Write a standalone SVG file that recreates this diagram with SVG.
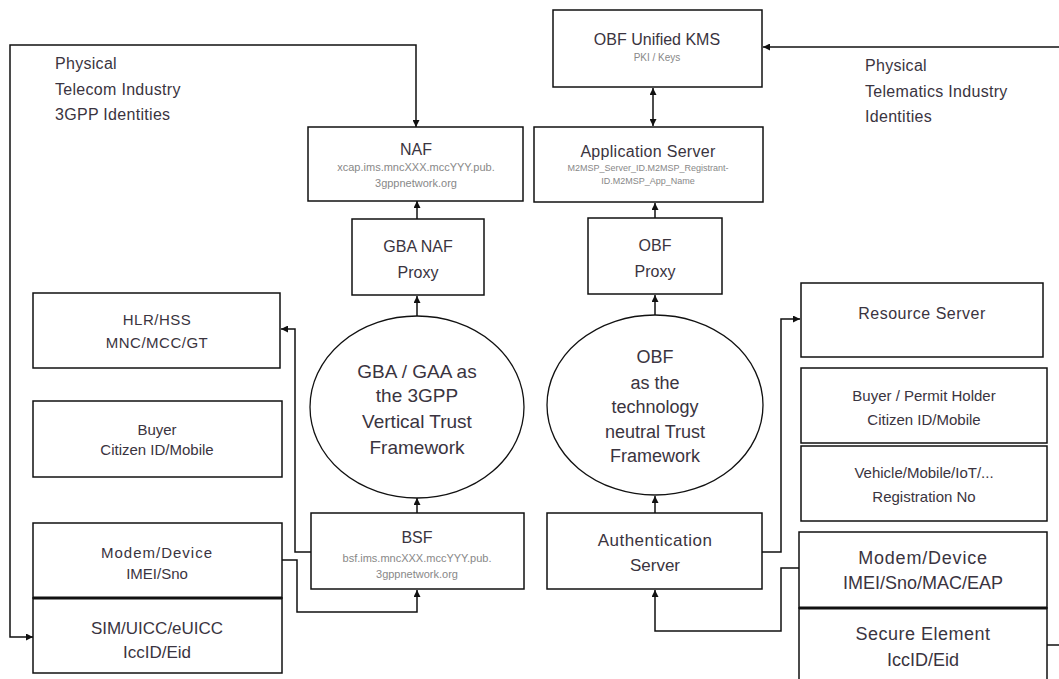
<svg xmlns="http://www.w3.org/2000/svg" width="1059" height="679" viewBox="0 0 1059 679">
<style>
.box{fill:#fff;stroke:#111;stroke-width:1.5}
.ell{fill:#fff;stroke:#111;stroke-width:1.3}
.t{font-family:"Liberation Sans",Arial,sans-serif;fill:#3a3440;text-anchor:middle}
.tl{font-family:"Liberation Sans",Arial,sans-serif;fill:#3a3440;font-size:16px}
.s{font-family:"Liberation Sans",Arial,sans-serif;fill:#888;text-anchor:middle}
.c{fill:none;stroke:#111;stroke-width:1.5}
</style>
<defs>
<marker id="ah" viewBox="0 0 10 10" refX="10" refY="5" markerWidth="7" markerHeight="7" markerUnits="userSpaceOnUse" orient="auto-start-reverse">
<path d="M0,0 L10,5 L0,10 z" fill="#111"/>
</marker>
</defs>
<rect width="1059" height="679" fill="#fff"/>
<g id="labels">
<text class="tl" x="55" y="69" letter-spacing="0.3">Physical</text>
<text class="tl" x="55" y="95" letter-spacing="0.3">Telecom Industry</text>
<text class="tl" x="55" y="120" letter-spacing="0.3">3GPP Identities</text>
<text class="tl" x="865" y="71" letter-spacing="0.3">Physical</text>
<text class="tl" x="865" y="97" letter-spacing="0.3">Telematics Industry</text>
<text class="tl" x="865" y="122" letter-spacing="0.3">Identities</text>
</g>
<g id="connectors">
<path class="c" d="M416,127 L416,45 L10,45 L10,637 L33,637" marker-start="url(#ah)" marker-end="url(#ah)"/>
<path class="c" d="M1059,47 L763,47" marker-end="url(#ah)"/>
<path class="c" d="M653,88 L653,126" marker-start="url(#ah)" marker-end="url(#ah)"/>
<path class="c" d="M417,219 L417,201" marker-end="url(#ah)"/>
<path class="c" d="M417,316 L417,296" marker-end="url(#ah)"/>
<path class="c" d="M417,513 L417,498" marker-end="url(#ah)"/>
<path class="c" d="M282,560 L297,560 L297,612 L417,612 L417,590" marker-end="url(#ah)"/>
<path class="c" d="M311,552 L295,552 L295,329 L281,329" marker-end="url(#ah)"/>
<path class="c" d="M655,218 L655,203" marker-end="url(#ah)"/>
<path class="c" d="M655,315 L655,295" marker-end="url(#ah)"/>
<path class="c" d="M655,513 L655,496" marker-end="url(#ah)"/>
<path class="c" d="M762,552 L781,552 L781,319 L800,319" marker-end="url(#ah)"/>
<path class="c" d="M799,568 L781,568 L781,631 L655,631 L655,590" marker-end="url(#ah)"/>
<path class="c" d="M1047,645 L1059,645"/>
</g>
<g id="kms">
<rect class="box" x="553" y="10" width="209" height="77"/>
<text class="t" x="657" y="45" font-size="16">OBF Unified KMS</text>
<text class="s" x="657" y="61" font-size="10">PKI / Keys</text>
</g>
<g id="naf">
<rect class="box" x="308" y="127" width="215" height="74"/>
<text class="t" x="416" y="155" font-size="16">NAF</text>
<text class="s" x="416" y="171" font-size="11">xcap.ims.mncXXX.mccYYY.pub.</text>
<text class="s" x="416" y="187" font-size="11">3gppnetwork.org</text>
</g>
<g id="appserver">
<rect class="box" x="534" y="127" width="229" height="75"/>
<text class="t" x="648" y="157" font-size="16" letter-spacing="0.3">Application Server</text>
<text class="s" x="648" y="171" font-size="9">M2MSP_Server_ID.M2MSP_Registrant-</text>
<text class="s" x="648" y="184" font-size="9">ID.M2MSP_App_Name</text>
</g>
<g id="gbaproxy">
<rect class="box" x="352" y="219" width="132" height="76"/>
<text class="t" x="418" y="252" font-size="16">GBA NAF</text>
<text class="t" x="418" y="278" font-size="16">Proxy</text>
</g>
<g id="obfproxy">
<rect class="box" x="588" y="218" width="134" height="76"/>
<text class="t" x="655" y="251" font-size="16">OBF</text>
<text class="t" x="655" y="277" font-size="16">Proxy</text>
</g>
<g id="gbaellipse">
<ellipse class="ell" cx="417" cy="407" rx="107" ry="91"/>
<text class="t" x="417" y="378" font-size="19">GBA / GAA as</text>
<text class="t" x="417" y="402" font-size="19">the 3GPP</text>
<text class="t" x="417" y="428" font-size="19">Vertical  Trust</text>
<text class="t" x="417" y="454" font-size="19">Framework</text>
</g>
<g id="obfellipse">
<ellipse class="ell" cx="655" cy="405" rx="108" ry="90"/>
<text class="t" x="655" y="363" font-size="18">OBF</text>
<text class="t" x="655" y="389" font-size="18">as the</text>
<text class="t" x="655" y="413" font-size="18">technology</text>
<text class="t" x="655" y="438" font-size="18">neutral Trust</text>
<text class="t" x="655" y="462" font-size="18">Framework</text>
</g>
<g id="hlr">
<rect class="box" x="33" y="293" width="247" height="75"/>
<text class="t" x="157" y="325" font-size="15" letter-spacing="0.5">HLR/HSS</text>
<text class="t" x="157" y="348" font-size="15" letter-spacing="0.5">MNC/MCC/GT</text>
</g>
<g id="buyer">
<rect class="box" x="33" y="401" width="249" height="76"/>
<text class="t" x="157" y="435" font-size="15">Buyer</text>
<text class="t" x="157" y="455" font-size="15">Citizen ID/Mobile</text>
</g>
<g id="modemleft">
<rect class="box" x="33" y="523" width="249" height="75"/>
<text class="t" x="157" y="558" font-size="15" letter-spacing="1">Modem/Device</text>
<text class="t" x="157" y="579" font-size="15">IMEI/Sno</text>
</g>
<g id="sim">
<rect class="box" x="33" y="598" width="249" height="75"/>
<line x1="33" y1="598" x2="282" y2="598" stroke="#111" stroke-width="3"/>
<text class="t" x="157" y="634" font-size="17">SIM/UICC/eUICC</text>
<text class="t" x="157" y="658" font-size="17">IccID/Eid</text>
</g>
<g id="bsf">
<rect class="box" x="311" y="513" width="213" height="76"/>
<text class="t" x="417" y="543" font-size="16">BSF</text>
<text class="s" x="417" y="562" font-size="11">bsf.ims.mncXXX.mccYYY.pub.</text>
<text class="s" x="417" y="578" font-size="11">3gppnetwork.org</text>
</g>
<g id="auth">
<rect class="box" x="547" y="513" width="215" height="76"/>
<text class="t" x="655" y="546" font-size="17" letter-spacing="0.5">Authentication</text>
<text class="t" x="655" y="571" font-size="17">Server</text>
</g>
<g id="resource">
<rect class="box" x="801" y="283" width="242" height="74"/>
<text class="t" x="922" y="319" font-size="16" letter-spacing="0.5">Resource Server</text>
</g>
<g id="permit">
<rect class="box" x="801" y="368" width="246" height="75"/>
<text class="t" x="924" y="401" font-size="15">Buyer / Permit Holder</text>
<text class="t" x="924" y="425" font-size="15">Citizen ID/Mobile</text>
</g>
<g id="vehicle">
<rect class="box" x="801" y="446" width="246" height="75"/>
<text class="t" x="924" y="478" font-size="15">Vehicle/Mobile/IoT/...</text>
<text class="t" x="924" y="502" font-size="15">Registration No</text>
</g>
<g id="modemright">
<rect class="box" x="799" y="532" width="248" height="76"/>
<text class="t" x="923" y="564" font-size="18" letter-spacing="0.8">Modem/Device</text>
<text class="t" x="923" y="589" font-size="18">IMEI/Sno/MAC/EAP</text>
</g>
<g id="secure">
<rect class="box" x="799" y="608" width="248" height="90"/>
<line x1="799" y1="608" x2="1047" y2="608" stroke="#111" stroke-width="3"/>
<text class="t" x="923" y="640" font-size="18" letter-spacing="0.5">Secure Element</text>
<text class="t" x="923" y="666" font-size="18">IccID/Eid</text>
</g>
</svg>
